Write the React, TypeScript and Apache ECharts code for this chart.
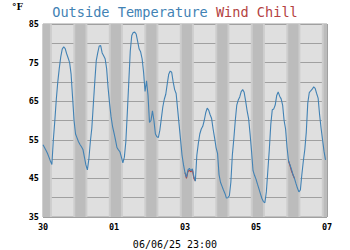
import React, { useEffect, useRef } from "react";
import * as echarts from "echarts";

// Hourly outside temperature (°F), starting 05/30 00:00
const outTemp = [
  53.7, 53, 52.3, 51.5, 50.5, 49.5, 48.6, 55, 60, 65.5, 70, 73.5, 76.5, 78.5, 79.1, 78.6, 77.3, 76.2, 75, 72, 66, 60, 56.5, 55.5,
  54.5, 53.8, 53.2, 52.5, 50.5, 48.5, 47.2, 50, 54.5, 58, 64, 70, 75.5, 77.5, 79.3, 79.4, 77.5, 76.8, 76, 73.5, 68.5, 64.5, 61, 58.5,
  56.8, 55, 53, 52.4, 51.9, 50.5, 49, 50.5, 54.5, 62, 70, 78, 82, 82.8, 82.9, 82.4, 80.5, 78.5, 77.8, 76, 72.5, 67.5, 70.3, 66.5,
  59.5, 60, 62.5, 60, 56.5, 55.8, 55.6, 57.5, 60.5, 63.5, 65.5, 66.8, 69.5, 72, 72.8, 72.5, 70, 68, 67, 63, 59, 55, 51, 48.5,
  46.5, 45.3, 47.2, 47.6, 47, 47.5, 45.5, 44.3, 51, 54, 56.5, 57.8, 58.5, 60, 62, 63.2, 62.7, 61.5, 60.5, 57.8, 55.5, 53, 51.5, 46,
  44, 43, 42, 41.1, 39.9, 40, 40.5, 44, 51, 55.2, 60, 64, 65.3, 66.1, 67.5, 68, 67.3, 65, 62.5, 60.5, 56.5, 52, 47, 45.8,
  44.8, 43.5, 42.3, 41, 39.8, 39, 38.7, 41.5, 47, 52.5, 59, 62.8, 63, 64, 66.5, 67.4, 66.3, 65.6, 64, 60, 57.8, 53, 49.5, 48.5,
  47.3, 46, 45, 43.7, 42.5, 41.5, 42, 46, 49.5, 52.5, 57, 64.5, 67.2, 67.7, 68.1, 68.7, 68.3, 67, 65.8, 61.5, 58, 55, 52, 49.8,
];

// Wind chill where it differs from the temperature
const windChillHours = [96, 97, 98, 99, 100, 101, 102, 103, 166, 167, 168, 169, 170];
const windChillValues = [46.5, 45.0, 46.8, 47.1, 46.7, 47.2, 45.0, 44.3, 49.5, 48.3, 46.9, 45.9, 45];

const xTickLabels = ["30", "01", "03", "05", "07"];
const yTickLabels = ["35", "45", "55", "65", "75", "85"];
// Night (sunset, sunrise) in hours from start
const nightStarts = [-3.5, 20.5, 44.5, 68.5, 92.5, 116.5, 140.5, 164.5, 188.5];
const nightEnds = [6, 30, 54, 78, 102, 126, 150, 174, 198];

export default function App() {
  const ref = useRef<HTMLDivElement>(null);
  useEffect(() => {
    document.body.style.margin = "0";
    const chart = echarts.init(ref.current!, null, { renderer: "svg" });
    const tempData = outTemp.map((t, i) => [i, t]);
    const wcData: any[] = [];
    windChillHours.forEach((h, i) => {
      if (i > 0 && h !== windChillHours[i - 1] + 1) wcData.push([h - 0.5, null]);
      wcData.push([h, windChillValues[i]]);
    });
    const edgeAreas = nightStarts.map((s, i) => [
      { xAxis: Math.max(0, s) },
      { xAxis: Math.min(192, nightEnds[i]) },
    ]);
    const coreAreas = nightStarts.map((s, i) => [
      { xAxis: Math.max(0, s + 1.3) },
      { xAxis: Math.min(192, nightEnds[i] - 1.3) },
    ]);
    chart.setOption({
      animation: false,
      backgroundColor: "#ffffff",
      title: {
        text: "{a|Outside Temperature }{b|Wind Chill}",
        left: "center",
        top: 0,
        textStyle: {
          rich: {
            a: { color: "#4282b4", fontFamily: "DejaVu Sans Mono", fontSize: 13.6, fontWeight: "normal" },
            b: { color: "#b44242", fontFamily: "DejaVu Sans Mono", fontSize: 13.6, fontWeight: "normal" },
          },
        },
      },
      graphic: [
        {
          type: "text",
          left: 12,
          top: 2,
          style: { text: "°F", font: "bold 9px 'DejaVu Serif'", fill: "#000" },
        },
        {
          type: "text",
          left: "center",
          top: 239,
          style: { text: "06/06/25 23:00", font: "10px 'DejaVu Sans Mono'", fill: "#000" },
        },
      ],
      grid: {
        left: 43,
        right: 23,
        top: 24,
        bottom: 33,
        show: true,
        backgroundColor: "#dfdfdf",
        borderColor: "#a0a0a0",
        borderWidth: 1,
      },
      xAxis: {
        type: "value",
        min: 0,
        max: 192,
        interval: 24,
        z: 1,
        axisLine: { show: false },
        axisTick: { show: false },
        axisLabel: {
          margin: 5,
          fontFamily: "DejaVu Sans Mono",
          fontWeight: "bold",
          fontSize: 8.5,
          color: "#000",
          formatter: (v: number) => (v % 48 === 0 ? xTickLabels[v / 48] : ""),
        },
        splitLine: { show: true, lineStyle: { color: "#a0a0a0", width: 1 } },
      },
      yAxis: {
        type: "value",
        min: 35,
        max: 85,
        interval: 5,
        z: 1,
        axisLine: { show: false },
        axisTick: { show: false },
        axisLabel: {
          margin: 4,
          fontFamily: "DejaVu Sans Mono",
          fontWeight: "bold",
          fontSize: 8.5,
          color: "#000",
          formatter: (v: number) =>
            (v - 35) % 10 === 0 ? yTickLabels[(v - 35) / 10] : "",
        },
        splitLine: { show: true, lineStyle: { color: "#a0a0a0", width: 1 } },
      },
      series: [
        {
          type: "line",
          data: [],
          z: 0.5,
          silent: true,
          markArea: {
            silent: true,
            itemStyle: { color: "#cdcdcd" },
            data: edgeAreas,
          },
        },
        {
          type: "line",
          data: [],
          z: 0.6,
          silent: true,
          markArea: {
            silent: true,
            itemStyle: { color: "#bcbcbc" },
            data: coreAreas,
          },
        },
        {
          type: "line",
          name: "Wind Chill",
          data: wcData,
          z: 1.8,
          showSymbol: false,
          connectNulls: false,
          lineStyle: { color: "#b44242", width: 1.1 },
        },
        {
          type: "line",
          name: "Outside Temperature",
          data: tempData,
          z: 2,
          showSymbol: false,
          lineStyle: { color: "#4282b4", width: 1.1 },
        },
      ],
    });
    return () => chart.dispose();
  }, []);
  return <div ref={ref} style={{ width: 350, height: 250 }} />;
}
